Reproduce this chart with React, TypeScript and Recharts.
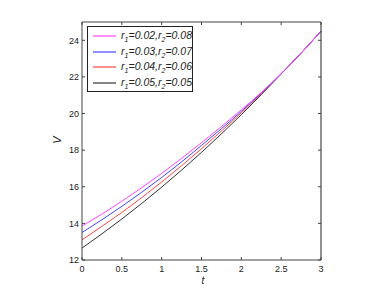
import React from "react";
import { LineChart, Line, XAxis, YAxis, Legend } from "recharts";

const tValues = [0, 0.25, 0.5, 0.75, 1, 1.25, 1.5, 1.75, 2, 2.25, 2.5, 2.75, 3];
const seriesA = [13.85, 14.51, 15.21, 15.95, 16.73, 17.55, 18.41, 19.29, 20.2, 21.15, 22.18, 23.3, 24.5];
const seriesB = [13.5, 14.2, 14.93, 15.7, 16.51, 17.36, 18.26, 19.17, 20.12, 21.12, 22.17, 23.3, 24.5];
const seriesC = [13.1, 13.84, 14.6, 15.41, 16.26, 17.15, 18.08, 19.04, 20.04, 21.08, 22.17, 23.3, 24.5];
const seriesD = [12.65, 13.43, 14.24, 15.09, 15.98, 16.91, 17.88, 18.89, 19.94, 21.03, 22.16, 23.3, 24.5];
const xTicks = [0, 0.5, 1, 1.5, 2, 2.5, 3];
const yTicks = [12, 14, 16, 18, 20, 22, 24];
const legendItems = [
  { key: "a", r1: "0.02", r2: "0.08", color: "#ff44ff" },
  { key: "b", r1: "0.03", r2: "0.07", color: "#4444ff" },
  { key: "c", r1: "0.04", r2: "0.06", color: "#ff4444" },
  { key: "d", r1: "0.05", r2: "0.05", color: "#333333" },
];

const data = tValues.map((t, i) => ({ t, a: seriesA[i], b: seriesB[i], c: seriesC[i], d: seriesD[i] }));

const FONT = "'Liberation Sans', Arial, sans-serif";
const AX = "#444";

const BottomTick = (p: any) => (
  <g>
    <line x1={p.x} x2={p.x} y1={p.y} y2={p.y - 3} stroke={AX} />
    <text x={p.x} y={p.y + 12} textAnchor="middle" fontSize={9} fontFamily={FONT} fill="#222">{p.payload.value}</text>
  </g>
);
const TopTick = (p: any) => (
  <line x1={p.x} x2={p.x} y1={p.y} y2={p.y + 3} stroke={AX} />
);
const LeftTick = (p: any) => (
  <g>
    <line x1={p.x} x2={p.x + 3} y1={p.y} y2={p.y} stroke={AX} />
    <text x={p.x - 3} y={p.y + 3.2} textAnchor="end" fontSize={9} fontFamily={FONT} fill="#222">{p.payload.value}</text>
  </g>
);
const RightTick = (p: any) => (
  <line x1={p.x} x2={p.x - 3} y1={p.y} y2={p.y} stroke={AX} />
);

const LegendBox = () => (
  <div style={{ border: "1px solid #222", background: "#fff", width: 106, height: 66, boxSizing: "border-box", padding: "1px 0 0 5px", fontFamily: FONT, fontStyle: "italic", fontSize: 10.5, color: "#222" }}>
    {legendItems.map((it) => (
      <div key={it.key} style={{ display: "flex", alignItems: "center", height: 15.8, whiteSpace: "nowrap" }}>
        <svg width={28} height={4} style={{ marginRight: 5, display: "block" }}>
          <line x1={0} x2={28} y1={2} y2={2} stroke={it.color} strokeWidth={1.2} />
        </svg>
        <span>
          r<sub style={{ fontSize: 7 }}>1</sub>={it.r1},r<sub style={{ fontSize: 7 }}>2</sub>={it.r2}
        </span>
      </div>
    ))}
  </div>
);

export default function App() {
  return (
    <div style={{ position: "absolute", left: 0, top: 0, width: 390, height: 294, background: "#fff" }}>
      <LineChart width={390} height={294} data={data} margin={{ top: 21, right: 68, left: 42, bottom: 4 }}>
        <XAxis xAxisId="b" dataKey="t" type="number" domain={[0, 3]} ticks={xTicks} orientation="bottom" height={30} tickSize={0} tickMargin={0} tickLine={false} axisLine={{ stroke: AX }} tick={BottomTick} interval={0} />
        <XAxis xAxisId="t" dataKey="t" type="number" domain={[0, 3]} ticks={xTicks} orientation="top" height={1} tickSize={0} tickMargin={0} tickLine={false} axisLine={{ stroke: AX }} tick={TopTick} interval={0} />
        <YAxis yAxisId="l" type="number" domain={[12, 25]} ticks={yTicks} orientation="left" width={40} tickSize={0} tickMargin={0} tickLine={false} axisLine={{ stroke: AX }} tick={LeftTick} interval={0} allowDataOverflow />
        <YAxis yAxisId="r" type="number" domain={[12, 25]} ticks={yTicks} orientation="right" width={1} tickSize={0} tickMargin={0} tickLine={false} axisLine={{ stroke: "#222" }} tick={RightTick} interval={0} allowDataOverflow />
        <Line xAxisId="b" yAxisId="l" type="monotone" dataKey="d" stroke="#333333" strokeWidth={1} dot={false} isAnimationActive={false} />
        <Line xAxisId="b" yAxisId="l" type="monotone" dataKey="c" stroke="#ff4444" strokeWidth={1} dot={false} isAnimationActive={false} />
        <Line xAxisId="b" yAxisId="l" type="monotone" dataKey="b" stroke="#4444ff" strokeWidth={1} dot={false} isAnimationActive={false} />
        <Line xAxisId="b" yAxisId="l" type="monotone" dataKey="a" stroke="#ff44ff" strokeWidth={1} dot={false} isAnimationActive={false} />
        <Legend layout="vertical" align="center" verticalAlign="middle" content={LegendBox} wrapperStyle={{ left: 87, top: 26, width: 106, height: 66 }} />
        <text x={58} y={140} transform="rotate(-90 58 140)" textAnchor="middle" dominantBaseline="middle" fontSize={11} fontStyle="italic" fontFamily={FONT} fill="#222">V</text>
        <text x={203} y={284} textAnchor="middle" fontSize={10} fontStyle="italic" fontFamily={FONT} fill="#222">t</text>
      </LineChart>
    </div>
  );
}
